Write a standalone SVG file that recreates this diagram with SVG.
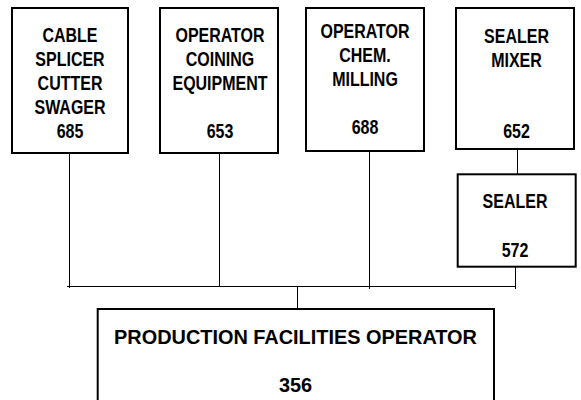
<svg xmlns="http://www.w3.org/2000/svg" width="581" height="400" viewBox="0 0 581 400">
<style>
.box{fill:#fff;stroke:#000;stroke-width:2}
.con line{stroke:#000;stroke-width:1}
.n{font-family:"Liberation Sans",Arial,sans-serif;font-weight:bold;font-size:19.5px;text-anchor:middle;fill:#000}
.w{font-family:"Liberation Sans",Arial,sans-serif;font-weight:bold;font-size:19.9px;text-anchor:middle;fill:#000}
</style>
<rect width="581" height="400" fill="#fff"/>
<g id="connectors" class="con">
<line x1="69.5" y1="154" x2="69.5" y2="288"/>
<line x1="219.5" y1="154" x2="219.5" y2="287"/>
<line x1="369.5" y1="152" x2="369.5" y2="289"/>
<line x1="517.5" y1="150" x2="517.5" y2="174"/>
<line x1="515.5" y1="266" x2="515.5" y2="289"/>
<line x1="67" y1="286.5" x2="516" y2="286.5"/>
<line x1="297.5" y1="286.5" x2="297.5" y2="311"/>
</g>
<g id="n685">
<rect class="box" x="12" y="8" width="116" height="145"/>
<text class="n" transform="translate(70 41.7) scale(0.82 1)">CABLE</text>
<text class="n" transform="translate(70 66) scale(0.82 1)">SPLICER</text>
<text class="n" transform="translate(70 90.3) scale(0.82 1)">CUTTER</text>
<text class="n" transform="translate(70 114.3) scale(0.82 1)">SWAGER</text>
<text class="n" transform="translate(70 138.3) scale(0.82 1)">685</text>
</g>
<g id="n653">
<rect class="box" x="160" y="8" width="118" height="145"/>
<text class="n" transform="translate(220 42) scale(0.82 1)">OPERATOR</text>
<text class="n" transform="translate(220 66) scale(0.82 1)">COINING</text>
<text class="n" transform="translate(220 90.3) scale(0.82 1)">EQUIPMENT</text>
<text class="n" transform="translate(220 138.3) scale(0.82 1)">653</text>
</g>
<g id="n688">
<rect class="box" x="306" y="8" width="118" height="143"/>
<text class="n" transform="translate(365 38.3) scale(0.82 1)">OPERATOR</text>
<text class="n" transform="translate(365 62.3) scale(0.82 1)">CHEM.</text>
<text class="n" transform="translate(365 86) scale(0.82 1)">MILLING</text>
<text class="n" transform="translate(365 134.3) scale(0.82 1)">688</text>
</g>
<g id="n652">
<rect class="box" x="456" y="8" width="118" height="141"/>
<text class="n" transform="translate(516.5 42.5) scale(0.82 1)">SEALER</text>
<text class="n" transform="translate(516.5 66.5) scale(0.82 1)">MIXER</text>
<text class="n" transform="translate(516.5 138.3) scale(0.82 1)">652</text>
</g>
<g id="n572">
<rect class="box" x="457.7" y="174.3" width="118" height="92.4"/>
<text class="n" transform="translate(515 208.3) scale(0.82 1)">SEALER</text>
<text class="n" transform="translate(515 256.7) scale(0.82 1)">572</text>
</g>
<g id="n356">
<rect class="box" x="97.7" y="309" width="396.3" height="100"/>
<text class="w" x="295.5" y="344">PRODUCTION FACILITIES OPERATOR</text>
<text class="w" x="295.5" y="392">356</text>
</g>
</svg>
